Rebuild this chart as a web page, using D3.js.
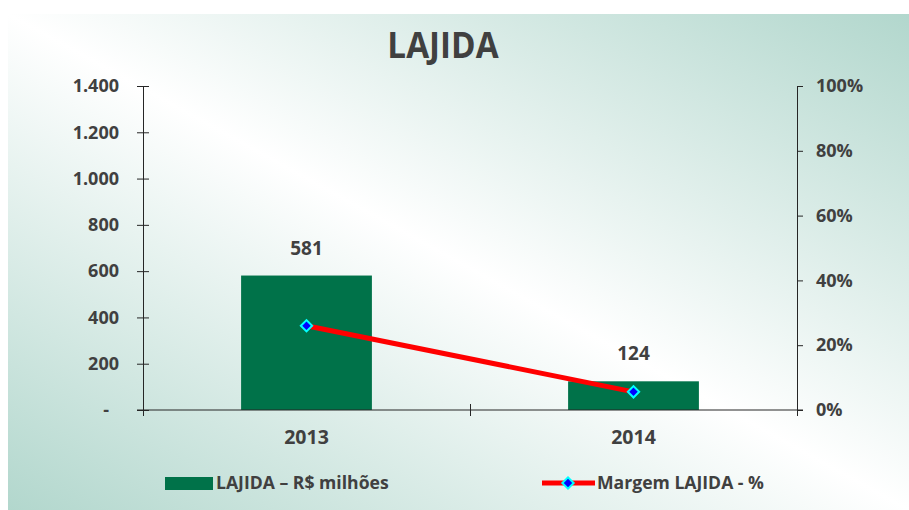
<!DOCTYPE html>
<html>
<head>
<meta charset="utf-8">
<script src="https://cdn.jsdelivr.net/npm/d3@7"></script>
<style>
  body { margin: 0; background: #fff; }
  svg { display: block; }
  text { font-family: "Open Sans", "Liberation Sans", sans-serif; font-weight: bold; fill: #404040; }
</style>
</head>
<body>
<div class="chart"></div>
<script>
// data
const years = ["2013", "2014"];
const lajida = [581, 124];           // R$ milhões
const margem = [0.26, 0.056];        // Margem LAJIDA - %
const leftTicks = [0, 200, 400, 600, 800, 1000, 1200, 1400];
const rightTicks = [0, 0.2, 0.4, 0.6, 0.8, 1];

const width = 909, height = 510;
const plot = { left: 143, right: 797, top: 86, bottom: 410 };
const ink = "#404040";

const svg = d3.select(".chart")
  .append("svg")
  .attr("width", width)
  .attr("height", height);

// background panel, teal at two corners, white on the other diagonal
const defs = svg.append("defs");
const grad = defs.append("linearGradient")
  .attr("id", "bg")
  .attr("x1", 0).attr("y1", 1)
  .attr("x2", 1).attr("y2", 0);
grad.append("stop").attr("offset", "0%").attr("stop-color", "#b2d7cd");
grad.append("stop").attr("offset", "50%").attr("stop-color", "#ffffff");
grad.append("stop").attr("offset", "100%").attr("stop-color", "#b2d7cd");

svg.append("rect")
  .attr("x", 8).attr("y", 14)
  .attr("width", width - 8).attr("height", height - 14)
  .attr("fill", "url(#bg)");

// scales
const x = d3.scaleBand().domain(years).range([plot.left, plot.right]).padding(0);
const xEdge = d3.scaleLinear().domain([0, years.length]).range([plot.left, plot.right]);
const y = d3.scaleLinear().domain([0, 1400]).range([plot.bottom, plot.top]);
const y2 = d3.scaleLinear().domain([0, 1]).range([plot.bottom, plot.top]);

const br = d3.formatLocale({ decimal: ",", thousands: ".", grouping: [3], currency: ["R$", ""] });
const fmtThousands = br.format(",");

// title
svg.append("text")
  .attr("x", 443).attr("y", 58)
  .attr("text-anchor", "middle")
  .attr("transform", "translate(443,0) scale(0.95,1) translate(-443,0)")
  .style("font-size", "35px")
  .text("LAJIDA");

// bars
const barW = x.bandwidth() * 0.4;
svg.append("g")
  .selectAll("rect")
  .data(lajida)
  .enter()
  .append("rect")
  .attr("x", (d, i) => x(years[i]) + x.bandwidth() / 2 - barW / 2)
  .attr("y", d => y(d))
  .attr("width", barW)
  .attr("height", d => y(0) - y(d))
  .attr("fill", "#007249");

// bar labels
svg.append("g")
  .selectAll("text")
  .data(lajida)
  .enter()
  .append("text")
  .attr("x", (d, i) => x(years[i]) + x.bandwidth() / 2)
  .attr("y", d => y(d) - 21)
  .attr("text-anchor", "middle")
  .style("font-size", "19px")
  .text(d => fmtThousands(d));

// left axis
const axL = svg.append("g")
  .attr("transform", "translate(" + plot.left + ",0)")
  .call(d3.axisLeft(y).tickValues(leftTicks).tickSizeOuter(0).tickSize(6).tickPadding(18)
    .tickFormat(d => d === 0 ? "-" : fmtThousands(d)));
axL.selectAll(".tick line").attr("x1", 6);
axL.selectAll(".tick text").filter(d => d === 0).attr("dx", "-10");

// right axis
const axR = svg.append("g")
  .attr("transform", "translate(" + plot.right + ",0)")
  .call(d3.axisRight(y2).tickValues(rightTicks).tickSizeOuter(0).tickSize(6).tickPadding(13)
    .tickFormat(d3.format(".0%")));

// bottom axis: boundary ticks crossing the line
const axB = svg.append("g")
  .attr("transform", "translate(0," + plot.bottom + ")")
  .call(d3.axisBottom(xEdge).tickValues(d3.range(years.length + 1)).tickSizeOuter(0).tickSize(6)
    .tickFormat(""));
axB.selectAll(".tick line").attr("y1", -6);
axB.select(".domain").attr("d", "M" + (plot.left - 6) + ",0H" + (plot.right + 6));

// category labels
const axC = svg.append("g")
  .attr("transform", "translate(0," + plot.bottom + ")")
  .call(d3.axisBottom(x).tickSize(0).tickPadding(20));
axC.select(".domain").remove();

[axL, axR, axB].forEach(a => {
  a.selectAll("path, line").attr("stroke", "#262626").attr("stroke-width", 1);
});
svg.selectAll(".tick text")
  .attr("fill", ink)
  .style("font-family", "'Open Sans', sans-serif")
  .style("font-weight", "bold")
  .style("font-size", "18px");
axC.selectAll(".tick text").style("font-size", "19.5px");

// margin line
const line = d3.line()
  .x((d, i) => x(years[i]) + x.bandwidth() / 2)
  .y(d => y2(d));

svg.append("path")
  .datum(margem)
  .attr("d", line)
  .attr("fill", "none")
  .attr("stroke", "#ff0000")
  .attr("stroke-width", 5);

const diamond = d3.symbol().type(d3.symbolSquare).size(64);

svg.append("g")
  .selectAll("path")
  .data(margem)
  .enter()
  .append("path")
  .attr("d", diamond)
  .attr("transform", (d, i) => "translate(" + (x(years[i]) + x.bandwidth() / 2) + "," + y2(d) + ") rotate(45)")
  .attr("fill", "#0000ff")
  .attr("stroke", "#00ffff")
  .attr("stroke-width", 2);

// legend
const legend = svg.append("g");
legend.append("rect")
  .attr("x", 165).attr("y", 477)
  .attr("width", 48).attr("height", 13)
  .attr("fill", "#007249");
legend.append("text")
  .attr("x", 216).attr("y", 489)
  .style("font-size", "17.6px")
  .text("LAJIDA – R$ milhões");

legend.append("line")
  .attr("x1", 542).attr("x2", 595)
  .attr("y1", 483).attr("y2", 483)
  .attr("stroke", "#ff0000")
  .attr("stroke-width", 5);
legend.append("path")
  .attr("d", diamond)
  .attr("transform", "translate(568,483) rotate(45)")
  .attr("fill", "#0000ff")
  .attr("stroke", "#00ffff")
  .attr("stroke-width", 2);
legend.append("text")
  .attr("x", 597).attr("y", 489)
  .style("font-size", "17.6px")
  .text("Margem LAJIDA - %");
</script>
</body>
</html>
